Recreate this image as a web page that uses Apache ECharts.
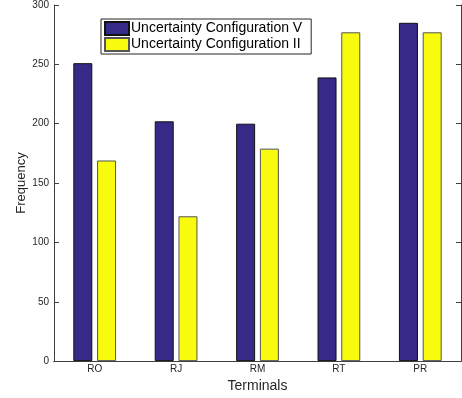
<!DOCTYPE html>
<html>
<head>
<meta charset="utf-8">
<script src="https://cdn.jsdelivr.net/npm/echarts@6/dist/echarts.min.js"></script>
<style>
  html, body { margin: 0; padding: 0; background: #fff; }
  #chart { width: 462px; height: 398px; }
</style>
</head>
<body>
<div id="chart"></div>
<script>
  var terminals = ['RO', 'RJ', 'RM', 'RT', 'PR']
  var configV = [251, 202, 200, 239, 285]
  var configII = [169, 122, 179, 277, 277]
  var yTicks = { min: 0, max: 300, interval: 50 }

  var font = 'Liberation Sans, Arial, Helvetica, sans-serif'
  var axisColor = '#404040'
  var textColor = '#262626'

  var chart = echarts.init(document.getElementById('chart'))
  var option = {
    animation: false,
    textStyle: { fontFamily: font },
    grid: { left: 54, right: 1, top: 5, bottom: 34 },
    legend: {
      orient: 'vertical',
      left: 101,
      top: 19,
      padding: [2, 9, 2, 3],
      itemGap: 1,
      itemWidth: 24,
      itemHeight: 13,
      icon: 'rect',
      borderColor: '#262626',
      borderWidth: 1,
      backgroundColor: '#fff',
      textStyle: { fontFamily: font, fontSize: 14, color: '#000', padding: [0, 0, 0, -3] },
      data: ['Uncertainty Configuration V', 'Uncertainty Configuration II']
    },
    xAxis: [
      {
        type: 'category',
        data: terminals,
        name: 'Terminals',
        nameLocation: 'middle',
        nameGap: 14,
        nameTextStyle: { fontSize: 14, color: textColor, fontFamily: font },
        axisLine: { lineStyle: { color: axisColor } },
        axisTick: { inside: true, alignWithLabel: true, length: 5, lineStyle: { color: axisColor } },
        axisLabel: { fontSize: 10, color: textColor, margin: 3, fontFamily: font },
        splitLine: { show: false }
      },
      {
        type: 'category',
        data: terminals,
        position: 'top',
        axisLine: { lineStyle: { color: axisColor } },
        axisTick: { inside: true, alignWithLabel: true, length: 5, lineStyle: { color: axisColor } },
        axisLabel: { show: false },
        splitLine: { show: false }
      }
    ],
    yAxis: [
      {
        type: 'value',
        min: yTicks.min,
        max: yTicks.max,
        interval: yTicks.interval,
        name: 'Frequency',
        nameLocation: 'middle',
        nameGap: 26,
        nameMoveOverlap: false,
        nameTextStyle: { fontSize: 13, color: textColor, fontFamily: font },
        axisLine: { show: true, lineStyle: { color: axisColor } },
        axisTick: { show: true, inside: true, length: 5, lineStyle: { color: axisColor } },
        axisLabel: { fontSize: 10, color: textColor, margin: 5, fontFamily: font },
        splitLine: { show: false }
      },
      {
        type: 'value',
        min: yTicks.min,
        max: yTicks.max,
        interval: yTicks.interval,
        position: 'right',
        axisLine: { show: true, lineStyle: { color: axisColor } },
        axisTick: { show: true, inside: true, length: 5, lineStyle: { color: axisColor } },
        axisLabel: { show: false },
        splitLine: { show: false }
      }
    ],
    series: [
      {
        name: 'Uncertainty Configuration V',
        type: 'bar',
        barWidth: 19,
        barGap: '25%',
        itemStyle: { color: '#352a87', borderColor: '#111', borderWidth: 1 },
        data: configV
      },
      {
        name: 'Uncertainty Configuration II',
        type: 'bar',
        barWidth: 19,
        barGap: '25%',
        itemStyle: { color: '#f9fb0e', borderColor: '#555', borderWidth: 1 },
        data: configII
      }
    ]
  }
  chart.setOption(option)
</script>
</body>
</html>
